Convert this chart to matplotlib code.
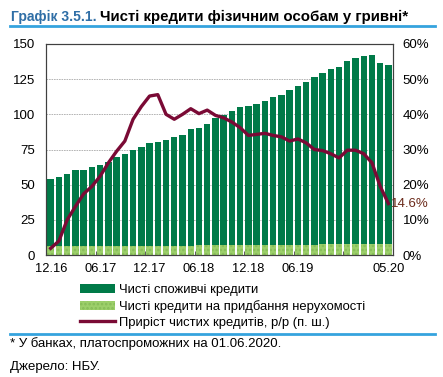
import numpy as np
import matplotlib
matplotlib.use("Agg")
import matplotlib.pyplot as plt
from matplotlib.lines import Line2D

plt.rcParams['font.family'] = ['Liberation Sans', 'DejaVu Sans']
plt.rcParams['hatch.linewidth'] = 1.2

# months 12.16 .. 05.20
months = ['12.16', '01.17', '02.17', '03.17', '04.17', '05.17', '06.17', '07.17', '08.17', '09.17',
          '10.17', '11.17', '12.17', '01.18', '02.18', '03.18', '04.18', '05.18', '06.18', '07.18',
          '08.18', '09.18', '10.18', '11.18', '12.18', '01.19', '02.19', '03.19', '04.19', '05.19',
          '06.19', '07.19', '08.19', '09.19', '10.19', '11.19', '12.19', '01.20', '02.20', '03.20',
          '04.20', '05.20']

# total net loans, UAH bn (stack top)
total = [54.3, 55.2, 57.9, 60.2, 60.5, 62.9, 64.3, 66.2, 69.8, 71.7,
         74.3, 77.1, 79.3, 80.2, 81.4, 83.6, 85.5, 89.3, 90.2, 93.1,
         97.2, 99.3, 102.1, 105.0, 106.0, 107.6, 109.3, 112.1, 114.0, 117.6,
         119.8, 123.3, 126.4, 129.5, 132.1, 134.0, 137.9, 139.8, 141.2, 142.4,
         136.2, 135.2]

# mortgage loans, UAH bn
mortgage = [6.2, 6.2, 6.3, 6.3, 6.3, 6.4, 6.4, 6.4, 6.5, 6.5,
            6.5, 6.6, 6.6, 6.5, 6.6, 6.6, 6.7, 6.7, 6.8, 6.8,
            6.9, 6.9, 7.0, 7.0, 7.0, 7.1, 7.1, 7.2, 7.2, 7.3,
            7.3, 7.4, 7.4, 7.5, 7.5, 7.6, 7.7, 7.7, 7.8, 7.8,
            7.7, 7.7]

# yoy growth, %
growth = [1.9, 4.0, 10.0, 13.8, 17.4, 19.5, 22.4, 26.2, 29.5, 32.4,
          38.6, 42.2, 45.2, 45.6, 40.0, 38.6, 40.0, 41.6, 40.2, 41.2,
          39.7, 39.0, 37.8, 36.2, 34.0, 34.3, 34.6, 34.0, 33.6, 32.4,
          33.0, 31.9, 30.0, 29.7, 28.8, 27.6, 29.8, 29.8, 28.8, 26.2,
          19.5, 14.6]

shown_labels = ['12.16', '06.17', '12.17', '06.18', '12.18', '06.19', '05.20']

W, H = 443, 377
fig = plt.figure(figsize=(W / 100, H / 100), dpi=100)
ax = fig.add_axes([46 / W, 1 - 255 / H, 347 / W, 211 / H])
ax2 = ax.twinx()

x = np.arange(len(months))
consumer = np.array(total) - np.array(mortgage)

dark_green = '#007A48'
light_green = '#9CCF6A'
maroon = '#7A0A35'

b1 = ax.bar(x, consumer, bottom=mortgage, width=0.78, color=dark_green, linewidth=0,
            label='Чисті споживчі кредити')
b2 = ax.bar(x, mortgage, width=0.78, color=light_green, edgecolor='#86BC58', hatch='....',
            linewidth=0, label='Чисті кредити на придбання нерухомості')
l1, = ax2.plot(x, growth, color=maroon, lw=2.4, solid_joinstyle='round',
               label='Приріст чистих кредитів, р/р (п. ш.)')
ax2.text(x[-1] + 0.3, growth[-1], f'{growth[-1]:.1f}%', color='#6B2A1A', fontsize=9.5,
         va='center', ha='left')

ax.set_xlim(-0.57, 41.55)
ax.set_ylim(0, 150)
ax2.set_ylim(0, 60)
ax.set_yticks(np.arange(0, 151, 25))
ax2.set_yticks(np.arange(0, 61, 10))
ax2.set_yticklabels([f'{v}%' for v in range(0, 61, 10)])

ax.set_xticks([months.index(m) for m in shown_labels])
ax.set_xticklabels(shown_labels)
ax.set_xticks(np.arange(5.5, 36, 6), minor=True)
ax.tick_params(axis='x', which='major', length=0, pad=6, labelsize=9.3)
ax.tick_params(axis='x', which='minor', direction='in', length=3, color='#404040')
ax.tick_params(axis='y', length=0, pad=8, labelsize=9.5)
ax2.tick_params(axis='y', length=0, pad=7, labelsize=9.5)

ax.set_axisbelow(True)
ax.grid(axis='y', color='#AAAAAA', lw=0.6, ls=(0, (2, 1)))
for a in (ax, ax2):
    for s in a.spines.values():
        s.set_color('#404040')
        s.set_linewidth(0.8)

# legend
fig.legend(handles=[b1, b2, l1], loc='upper left', bbox_to_anchor=(80 / W, 1 - 284 / H),
           frameon=False, fontsize=9.4, handlelength=2.7, handleheight=0.7,
           handletextpad=0.25, labelspacing=0.3, borderaxespad=0, borderpad=0)

# title
fig.text(11 / W, 1 - 21 / H, 'Графік 3.5.1.', color='#2F6EA6', fontsize=10.0,
         weight='bold', va='baseline')
fig.text(100 / W, 1 - 21 / H, 'Чисті кредити фізичним особам у гривні*',
         color='black', fontsize=10.8, weight='bold', va='baseline')

fig.add_artist(Line2D([10 / W, 435 / W], [1 - 26 / H, 1 - 26 / H], color='#35A3DE', lw=2))
fig.add_artist(Line2D([10 / W, 435 / W], [1 - 334 / H, 1 - 334 / H], color='#35A3DE', lw=2))

fig.text(10 / W, 1 - 347 / H, '* У банках, платоспроможних на 01.06.2020.', fontsize=9.5,
         va='baseline')
fig.text(10 / W, 1 - 370 / H, 'Джерело: НБУ.', fontsize=9.5, va='baseline')

fig.savefig('out.png', dpi=100)
